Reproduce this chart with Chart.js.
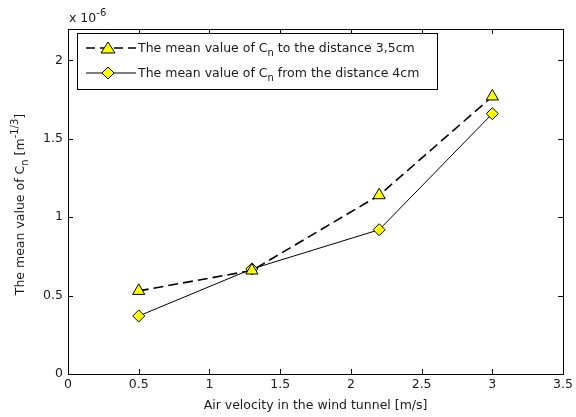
<!DOCTYPE html>
<html>
<head>
<meta charset="utf-8">
<script src="https://cdn.jsdelivr.net/npm/chart.js@4.4.1/dist/chart.umd.min.js"></script>
<style>
  html, body { margin: 0; padding: 0; background: #fff; }
  #wrap { width: 576px; height: 417px; }
</style>
</head>
<body>
<div id="wrap"><canvas id="cn"></canvas></div>
<script>
// data
const velocity = [0.5, 1.3, 2.2, 3.0];
const cnTo35 = [0.53, 0.66, 1.14, 1.77];    // x 1e-6
const cnFrom4 = [0.37, 0.67, 0.92, 1.66];   // x 1e-6
const xTicks = [0, 0.5, 1, 1.5, 2, 2.5, 3, 3.5];
const yTicks = [0, 0.5, 1, 1.5, 2];

const FONT = "'DejaVu Sans', sans-serif";
const FS = 12.5, FS_SMALL = 10;
const TXT = '#1a1a1a';

const toPoints = (xs, ys) => xs.map((x, i) => ({ x: x, y: ys[i] }));

// draws text with an optional sub/superscript part, returns the x after it
function richText(ctx, parts, x, y) {
    parts.forEach(p => {
        ctx.font = (p.sub || p.sup ? FS_SMALL : FS) + 'px ' + FONT;
        let dy = p.sub ? 4 : (p.sup ? -6 : 0);
        ctx.fillText(p.t, x, y + dy);
        x += ctx.measureText(p.t).width;
    });
    return x;
}

function drawMarker(ctx, style, x, y) {
    ctx.save();
    ctx.fillStyle = '#ffff00';
    ctx.strokeStyle = '#000';
    ctx.lineWidth = 1;
    ctx.beginPath();
    if (style === 'triangle') {
        ctx.moveTo(x, y - 6);
        ctx.lineTo(x + 7, y + 5);
        ctx.lineTo(x - 7, y + 5);
    } else {
        ctx.moveTo(x, y - 6);
        ctx.lineTo(x + 6, y);
        ctx.lineTo(x, y + 6);
        ctx.lineTo(x - 6, y);
    }
    ctx.closePath();
    ctx.fill();
    ctx.stroke();
    ctx.restore();
}

const matlabFrame = {
    id: 'matlabFrame',
    afterDatasetsDraw(chart) {
        const ctx = chart.ctx;
        const a = chart.chartArea;
        const xs = chart.scales.x, ys = chart.scales.y;
        ctx.save();
        ctx.strokeStyle = '#000';
        ctx.lineWidth = 1;
        ctx.strokeRect(Math.round(a.left) + 0.5, Math.round(a.top) + 0.5,
            Math.round(a.right - a.left), Math.round(a.bottom - a.top));
        ctx.beginPath();
        xTicks.forEach(v => {
            const px = Math.round(xs.getPixelForValue(v)) + 0.5;
            ctx.moveTo(px, a.bottom); ctx.lineTo(px, a.bottom - 5);
            ctx.moveTo(px, a.top); ctx.lineTo(px, a.top + 5);
        });
        yTicks.forEach(v => {
            const py = Math.round(ys.getPixelForValue(v)) + 0.5;
            ctx.moveTo(a.left, py); ctx.lineTo(a.left + 5, py);
            ctx.moveTo(a.right, py); ctx.lineTo(a.right - 5, py);
        });
        ctx.stroke();

        // exponent label
        ctx.fillStyle = TXT;
        ctx.textBaseline = 'alphabetic';
        ctx.textAlign = 'left';
        richText(ctx, [{ t: 'x 10' }, { t: '-6', sup: true }], a.left + 1, 22);

        // legend box
        const lx = a.left + 9, ly = a.top + 4, lw = 360, lh = 56;
        ctx.fillStyle = '#fff';
        ctx.fillRect(lx, ly, lw, lh);
        ctx.strokeRect(lx + 0.5, ly + 0.5, lw, lh);
        const rows = [
            { y: ly + 15, dash: [9, 5], w: 1.5, mk: 'triangle',
              txt: [{ t: 'The mean value of C' }, { t: 'n', sub: true }, { t: ' to the distance 3,5cm' }] },
            { y: ly + 40, dash: [], w: 1, mk: 'diamond',
              txt: [{ t: 'The mean value of C' }, { t: 'n', sub: true }, { t: ' from the distance 4cm' }] }
        ];
        rows.forEach(r => {
            ctx.save();
            ctx.setLineDash(r.dash);
            ctx.lineWidth = r.w;
            ctx.beginPath();
            ctx.moveTo(lx + 9, r.y);
            ctx.lineTo(lx + 59, r.y);
            ctx.stroke();
            ctx.restore();
            drawMarker(ctx, r.mk, lx + 31, r.y);
            ctx.fillStyle = TXT;
            richText(ctx, r.txt, lx + 61, r.y + 4);
        });

        // y axis title, rotated
        ctx.save();
        ctx.translate(24, (a.top + a.bottom) / 2 + 3);
        ctx.rotate(-Math.PI / 2);
        const parts = [{ t: 'The mean value of C' }, { t: 'n', sub: true }, { t: ' [m' }, { t: '-1/3', sup: true }, { t: ']' }];
        let w = 0;
        parts.forEach(p => {
            ctx.font = (p.sub || p.sup ? FS_SMALL : FS) + 'px ' + FONT;
            w += ctx.measureText(p.t).width;
        });
        richText(ctx, parts, -w / 2, 0);
        ctx.restore();
        ctx.restore();
    }
};

new Chart(document.getElementById('cn'), {
    type: 'scatter',
    plugins: [matlabFrame],
    data: {
        datasets: [
            {
                label: 'The mean value of Cn to the distance 3,5cm',
                data: toPoints(velocity, cnTo35),
                showLine: true,
                borderColor: '#000',
                borderWidth: 1.6,
                borderDash: [10, 5],
                pointStyle: 'triangle',
                pointRadius: 7,
                pointBackgroundColor: '#ffff00',
                pointBorderColor: '#000',
                pointBorderWidth: 1
            },
            {
                label: 'The mean value of Cn from the distance 4cm',
                data: toPoints(velocity, cnFrom4),
                showLine: true,
                borderColor: '#000',
                borderWidth: 1,
                pointStyle: 'rectRot',
                pointRadius: 6,
                pointBackgroundColor: '#ffff00',
                pointBorderColor: '#000',
                pointBorderWidth: 1
            }
        ]
    },
    options: {
        responsive: true,
        maintainAspectRatio: false,
        animation: false,
        layout: { padding: { top: 29, right: 11, left: 0, bottom: 0 } },
        plugins: {
            legend: { display: false },
            tooltip: { enabled: false }
        },
        scales: {
            x: {
                type: 'linear',
                min: 0,
                max: 3.5,
                afterBuildTicks: s => { s.ticks = xTicks.map(v => ({ value: v })); },
                afterFit: s => { s.height = 43; },
                grid: { display: false, drawTicks: false },
                border: { display: false },
                ticks: { color: TXT, padding: 3, callback: v => String(v), font: { family: FONT, size: FS } },
                title: {
                    display: true,
                    text: 'Air velocity in the wind tunnel [m/s]',
                    color: TXT,
                    padding: { top: 1 },
                    font: { family: FONT, size: FS }
                }
            },
            y: {
                min: 0,
                max: 2.2,
                afterBuildTicks: s => { s.ticks = yTicks.map(v => ({ value: v })); },
                afterFit: s => { s.width = 68; },
                grid: { display: false, drawTicks: false },
                border: { display: false },
                ticks: { color: TXT, padding: 5, callback: v => String(v), font: { family: FONT, size: FS } }
            }
        }
    }
});
</script>
</body>
</html>
